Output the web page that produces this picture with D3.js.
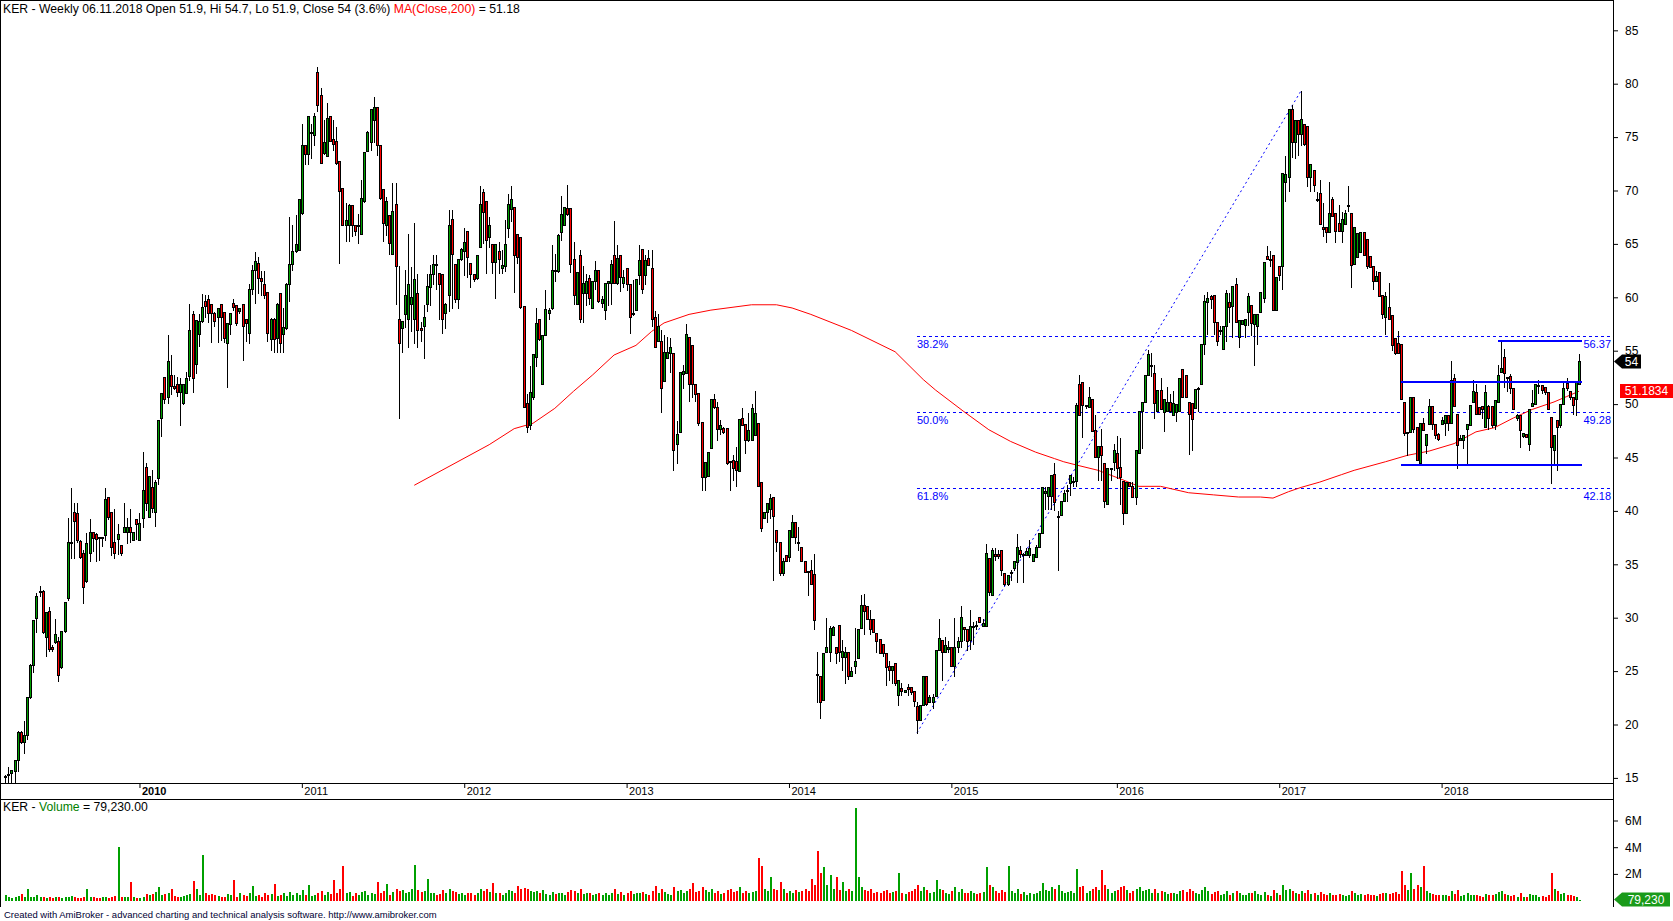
<!DOCTYPE html>
<html><head><meta charset="utf-8">
<script src="https://cdn.jsdelivr.net/npm/d3@7"></script>
<style>
html,body{margin:0;padding:0;background:#fff;overflow:hidden;}
svg{display:block;font-family:"Liberation Sans",Arial,sans-serif;}
</style></head><body>
<svg id="c" width="1673" height="921"></svg>
<script>
// ---------- DATA (weekly bars, index 0 = first visible week) ----------
const opens=[15.2,15.3,15.5,15.6,16.7,19.3,18.4,19.0,22.6,25.6,30.0,32.5,32.5,28.2,30.6,27.3,27.7,27.8,25.4,28.8,31.8,37.1,39.9,39.8,37.2,36.1,33.4,36.1,38.0,37.8,37.6,37.6,37.7,41.3,39.9,37.1,37.4,36.8,38.0,38.0,38.5,37.3,39.2,37.3,39.3,44.1,39.4,42.2,39.9,43.1,48.7,52.5,50.7,52.7,51.7,51.9,51.1,50.1,51.0,52.6,58.4,53.8,56.6,57.8,59.7,59.8,59.4,58.5,58.2,59.4,58.6,55.7,57.5,59.5,59.3,58.7,59.4,58.0,56.7,60.8,62.6,63.2,61.8,61.2,60.5,56.1,58.0,56.2,60.4,56.6,57.1,61.2,63.1,64.3,64.4,67.9,74.3,73.4,75.4,75.2,81.1,78.9,73.5,73.2,77.0,74.8,74.6,72.8,70.2,66.8,66.8,68.6,66.8,66.8,65.9,69.0,73.7,74.5,76.6,77.8,74.3,70.1,66.8,67.7,64.1,68.7,58.0,57.1,58.4,58.0,59.4,58.0,60.4,57.1,57.3,59.4,61.0,62.2,63.1,62.3,62.2,58.5,60.2,67.3,63.1,59.8,63.6,64.3,66.2,63.2,62.2,61.8,64.7,69.9,69.0,65.6,65.0,63.3,64.3,62.7,62.9,66.5,68.3,68.5,65.9,65.6,59.2,50.1,48.0,50.7,54.4,58.0,51.9,56.5,58.5,59.0,62.6,62.5,66.1,66.8,68.4,68.4,63.6,59.4,64.0,60.4,60.4,61.8,59.0,61.5,62.6,59.5,58.8,61.3,61.3,64.0,61.3,64.0,61.3,62.7,61.2,58.5,58.8,62.1,64.5,62.1,63.7,62.7,58.2,55.9,55.9,52.2,54.3,54.8,54.8,46.3,47.4,52.8,52.9,56.3,55.5,51.9,51.0,48.3,43.2,43.3,45.9,50.5,49.7,47.7,47.8,47.8,44.7,44.8,44.7,43.7,48.7,48.1,46.6,46.6,47.1,48.2,42.7,39.3,39.9,40.2,41.3,38.2,37.1,34.2,35.9,35.7,37.6,39.0,37.1,36.6,35.3,34.4,34.5,34.1,24.7,24.5,22.3,26.8,26.8,28.4,27.3,29.3,26.3,26.3,26.8,24.5,25.5,26.2,29.0,31.2,31.1,29.9,29.9,28.6,28.0,27.5,26.7,25.5,25.1,25.8,22.8,23.4,23.0,23.5,23.5,23.1,21.7,20.4,21.8,24.5,22.1,22.1,22.7,27.0,27.9,26.8,27.1,27.3,25.5,27.3,27.8,29.1,28.9,27.9,29.1,29.3,30.1,29.2,29.2,35.6,32.1,36.0,36.0,36.3,34.2,33.2,34.2,34.7,35.2,36.3,36.0,35.9,35.9,35.3,35.7,36.6,37.9,41.7,41.4,41.4,43.5,39.5,39.6,40.9,41.9,42.6,42.8,42.8,51.9,52.1,49.9,49.7,50.5,47.6,45.0,46.1,44.5,40.6,44.0,44.6,45.4,44.1,42.8,39.8,42.7,42.3,41.3,45.4,49.4,50.2,52.7,53.7,52.9,49.4,51.3,49.3,49.4,50.2,49.0,49.3,49.4,53.3,52.7,50.2,50.1,49.6,51.5,51.9,55.6,59.6,60.1,60.2,57.7,56.9,55.2,57.3,59.6,59.2,61.2,56.3,57.5,57.4,58.6,59.3,57.5,57.3,58.6,59.9,63.9,63.6,64.0,58.8,62.9,62.9,70.8,71.3,77.6,74.5,76.6,75.3,76.2,76.0,71.3,71.9,69.2,69.8,66.6,66.6,66.1,69.2,67.9,67.0,66.2,66.9,68.6,67.9,63.1,63.8,64.2,66.1,65.5,63.9,62.9,61.5,62.4,60.2,58.2,59.1,58.3,56.2,55.7,55.6,50.2,47.4,47.4,50.7,47.9,44.5,48.2,46.2,48.1,49.8,48.1,47.2,48.1,48.2,49.0,48.2,52.4,49.1,46.6,46.6,47.7,48.0,50.2,51.1,49.7,49.8,47.9,49.8,49.8,48.0,50.2,53.0,54.4,52.5,52.6,51.5,48.7,49.0,47.0,47.2,46.3,49.8,50.0,51.8,51.8,51.6,51.1,48.8,45.7,48.5,48.0,50.0,52.0,51.2,50.7,50.5,51.9];
const highs=[15.3,16.0,15.7,16.7,19.4,19.4,20.3,22.6,25.7,29.8,32.3,33.0,32.6,30.5,31.0,27.4,29.9,28.2,28.8,31.5,39.3,42.1,40.7,40.7,37.3,36.3,37.9,39.2,38.0,37.9,37.6,37.6,42.1,41.3,39.9,40.2,38.8,36.8,40.7,39.3,40.2,38.0,39.2,39.8,45.5,44.5,43.3,43.8,42.9,48.5,51.0,52.5,56.5,54.6,52.7,52.5,52.4,51.9,53.0,59.4,58.7,57.9,58.4,60.3,60.2,60.2,59.4,58.6,59.0,59.4,58.6,57.6,58.5,59.8,59.3,59.0,59.4,58.0,61.2,63.0,64.2,63.8,62.5,62.5,60.5,58.1,58.1,59.5,60.4,59.0,61.3,67.5,66.8,67.7,69.2,76.2,74.3,77.0,76.2,77.3,81.6,79.6,76.6,78.2,77.0,76.6,75.9,72.8,70.2,68.8,68.7,68.6,66.8,67.8,71.0,73.6,75.6,77.6,78.8,77.8,74.3,70.1,69.4,67.7,70.7,70.7,62.9,57.8,62.6,65.9,62.8,67.0,62.2,57.7,59.3,62.2,63.0,64.0,64.0,62.3,62.2,59.5,68.2,68.2,63.1,63.6,64.6,66.5,66.2,63.2,62.2,64.0,70.4,70.1,69.0,67.5,65.0,65.0,65.2,64.4,67.2,69.7,70.4,68.5,65.9,65.6,59.2,50.9,53.6,54.7,59.0,58.0,56.5,60.7,59.0,64.9,64.1,65.9,69.5,68.5,70.5,68.4,65.2,62.4,64.4,62.9,62.2,62.1,61.5,63.4,62.6,60.1,61.3,61.5,63.5,67.1,64.9,64.0,62.6,62.7,61.2,61.6,61.7,64.9,64.5,64.0,64.4,64.4,58.7,58.4,56.9,56.5,56.3,56.2,54.8,48.4,53.0,53.7,57.5,56.3,55.5,51.9,51.0,48.3,44.6,45.5,50.5,50.9,50.2,48.5,47.9,47.8,44.7,45.2,46.0,48.6,49.6,48.1,49.2,50.0,51.2,48.2,42.7,39.9,40.7,41.6,41.3,38.2,37.1,35.6,35.9,38.2,39.6,39.0,38.5,36.6,35.3,34.4,35.4,36.0,26.8,24.5,26.7,30.0,29.2,29.2,27.3,29.3,27.9,27.3,26.8,25.4,29.0,28.9,32.1,32.2,31.1,30.7,29.9,28.6,28.0,27.5,26.7,25.9,25.5,25.8,24.2,23.9,23.2,23.8,23.5,23.1,22.1,21.8,24.5,24.5,22.8,22.9,27.0,29.9,27.9,28.2,27.8,27.3,30.0,28.2,31.1,29.1,28.9,30.7,29.6,29.7,30.1,29.9,36.9,35.6,36.5,36.5,36.3,36.3,34.2,34.0,34.5,35.3,37.8,36.7,36.1,36.5,37.3,36.0,36.8,37.9,42.2,42.2,42.2,43.4,44.5,40.0,40.9,42.0,42.4,43.4,43.2,50.1,52.7,52.1,49.9,51.6,50.5,49.0,46.1,47.7,44.5,44.0,44.0,46.3,47.0,46.8,42.8,42.7,42.7,42.7,45.7,49.4,50.2,52.7,55.1,54.8,53.7,51.3,52.4,50.5,51.6,50.9,51.2,50.0,52.4,53.3,52.7,50.2,50.1,51.4,51.6,55.6,60.2,60.5,60.2,60.2,57.7,57.3,57.3,60.7,60.4,61.1,61.8,57.9,57.9,58.0,60.4,59.3,58.4,58.4,60.5,63.3,64.8,64.3,64.0,61.9,62.9,71.6,73.2,77.6,78.0,76.6,76.6,79.3,76.2,76.0,72.5,71.9,69.9,71.0,68.8,66.6,70.8,69.4,67.9,68.6,68.0,68.2,70.4,67.9,66.6,66.0,66.1,66.1,65.5,63.9,62.9,62.5,62.4,60.2,60.5,61.3,58.3,56.2,56.8,55.6,50.2,47.4,50.7,50.7,47.9,48.2,48.7,47.2,50.5,49.8,48.1,47.3,48.8,49.0,49.0,54.0,52.8,49.1,47.1,47.1,48.1,49.9,52.3,51.9,49.7,49.8,51.8,49.9,49.8,50.4,53.7,55.9,55.2,52.5,52.8,51.5,49.1,49.0,47.3,47.2,49.5,51.3,51.9,52.3,51.8,51.6,51.1,48.8,47.1,48.5,50.0,52.1,52.4,51.2,50.7,52.1,54.7];
const lows=[14.6,14.6,14.6,14.6,15.6,18.3,17.3,18.6,22.5,24.9,28.7,32.0,28.6,26.4,26.9,26.9,27.6,24.1,25.3,28.7,31.7,35.6,35.6,37.1,35.6,31.4,33.3,35.3,36.2,35.3,35.4,36.7,37.3,39.2,35.9,35.6,36.0,35.9,38.0,37.0,37.1,37.3,37.4,37.3,38.5,40.1,39.4,39.9,38.6,42.5,47.0,50.1,50.1,50.9,51.4,50.8,48.0,50.0,51.0,52.3,51.1,52.9,55.4,57.7,58.2,57.7,55.8,57.3,55.8,56.0,55.8,51.6,56.6,58.8,57.4,58.5,54.1,55.9,55.7,60.3,59.5,60.4,60.2,59.9,55.9,55.1,54.9,54.9,54.9,54.9,57.0,59.7,62.6,64.2,64.4,67.8,72.5,72.5,73.0,74.3,77.4,72.6,73.4,73.2,74.6,73.8,72.5,63.2,66.8,65.3,65.3,65.7,65.8,65.1,65.9,68.9,73.7,73.8,74.5,73.3,69.2,65.3,65.8,64.1,64.1,59.4,48.7,54.9,57.2,55.3,56.8,55.7,55.3,55.9,54.3,58.7,59.3,61.2,60.8,58.0,56.7,57.1,58.7,59.0,59.6,59.0,63.5,62.1,61.9,61.0,61.5,61.7,64.7,65.1,62.3,64.7,62.3,59.9,62.3,62.3,62.5,65.6,67.1,60.5,63.2,59.0,49.7,47.4,47.7,50.5,53.6,56.0,51.9,56.5,58.0,58.9,61.5,62.4,65.4,66.8,67.7,62.4,59.4,59.4,57.7,57.7,59.3,59.4,59.0,60.8,59.6,59.1,58.0,59.3,59.4,61.3,61.2,60.6,61.0,60.7,56.7,58.3,58.8,61.2,60.4,61.2,63.0,57.3,55.3,55.9,49.3,52.2,54.3,53.0,43.8,44.5,47.4,51.5,52.9,50.3,50.7,50.3,48.0,42.0,42.0,43.3,45.9,49.6,46.6,47.2,47.3,44.4,42.0,42.9,42.3,43.7,48.0,45.4,46.5,46.6,47.1,42.3,38.1,39.3,39.0,39.3,33.5,36.2,34.0,34.0,35.3,35.3,37.6,37.0,36.3,35.3,34.3,32.1,33.2,28.9,22.1,20.6,22.3,26.8,25.9,28.4,25.8,25.9,25.1,23.9,24.3,24.5,24.8,26.2,29.0,28.5,29.9,28.5,28.7,26.8,26.7,26.4,23.7,24.2,23.9,23.7,21.8,22.8,23.0,22.8,22.9,21.7,19.2,20.4,21.8,21.8,22.1,21.5,22.7,27.0,24.2,26.8,26.8,25.5,24.5,26.8,27.3,27.9,27.0,27.1,27.5,28.9,29.6,29.2,29.2,32.1,32.1,35.4,35.6,34.0,33.1,33.1,33.5,34.5,33.3,35.7,33.3,35.9,35.7,35.3,35.7,36.6,37.9,40.2,40.2,40.2,40.1,34.5,39.6,40.9,40.9,41.5,42.3,42.3,49.0,46.9,49.6,49.7,47.5,45.0,42.9,42.9,40.4,40.6,42.9,43.8,43.1,40.6,38.8,39.8,42.3,41.3,40.6,45.4,45.9,50.2,52.7,52.6,48.7,49.4,49.5,47.5,49.4,49.3,49.0,48.4,49.4,50.7,50.7,45.3,45.7,49.6,49.4,51.9,54.7,56.6,59.0,56.6,55.5,56.6,55.2,55.9,57.7,56.3,57.7,55.3,57.5,56.3,57.4,56.5,53.7,55.6,58.6,59.6,63.6,62.9,58.8,58.8,61.6,60.8,69.0,70.0,73.1,73.0,73.3,74.3,74.3,70.4,70.0,70.0,69.0,66.9,65.7,65.2,66.1,67.6,65.2,66.2,65.2,66.9,68.1,61.0,63.1,63.8,64.2,64.0,62.7,62.8,60.8,61.5,60.1,58.1,56.6,58.0,55.1,54.7,54.8,50.5,47.1,45.2,47.4,47.4,44.8,44.3,47.6,45.4,48.1,47.7,46.8,46.6,48.1,47.1,47.6,48.2,49.8,44.0,46.6,45.9,44.3,48.0,50.2,49.1,49.1,48.7,47.9,47.7,47.9,47.7,50.2,53.0,51.6,51.2,51.0,49.5,48.5,46.0,46.9,46.9,45.7,49.8,50.0,51.0,51.0,50.9,49.5,42.6,44.3,43.8,47.9,50.0,51.3,50.5,49.1,49.0,51.9];
const closes=[15.2,15.4,15.7,16.7,19.3,18.4,19.0,22.6,25.6,29.8,32.0,32.5,28.7,30.5,27.1,27.1,28.5,24.6,28.8,31.5,37.1,37.1,39.1,37.3,35.7,32.9,37.0,38.0,37.5,37.4,37.5,37.6,41.1,39.4,36.6,36.1,37.8,36.1,38.5,38.5,38.0,38.0,38.8,38.9,42.0,40.7,43.3,40.3,42.7,48.5,51.0,50.5,54.0,51.7,51.5,51.1,51.9,51.9,52.4,56.9,52.4,57.9,57.8,59.1,59.2,58.5,58.5,57.8,59.0,58.2,56.2,57.6,58.5,59.1,57.6,59.0,57.3,57.6,60.8,62.6,63.4,61.8,61.5,60.2,56.7,58.0,56.1,59.4,55.7,57.2,61.2,63.1,64.3,65.0,69.2,74.3,73.4,77.0,75.5,77.0,78.0,72.6,74.5,76.8,74.6,74.4,72.6,70.0,66.8,67.2,68.6,66.8,66.2,66.8,69.3,73.6,75.5,77.6,77.8,74.3,69.3,67.0,69.0,65.1,68.1,62.9,55.7,57.8,60.2,61.2,60.0,61.7,56.9,56.9,58.2,61.1,62.2,63.1,63.0,61.2,58.0,59.4,66.8,64.1,59.8,63.6,64.5,65.2,63.8,62.2,61.7,64.0,68.7,68.0,65.4,66.8,63.3,65.0,63.6,63.0,65.0,68.7,69.2,64.0,63.8,59.1,49.7,47.9,51.1,54.7,57.6,56.1,56.5,58.9,58.8,62.6,62.5,65.8,67.8,68.5,67.8,63.1,60.2,62.4,58.0,61.3,61.5,59.9,61.5,62.6,59.7,59.8,61.3,61.5,63.1,61.3,63.7,61.9,61.9,61.2,58.2,58.5,61.7,63.5,60.8,63.5,63.0,58.0,55.3,57.3,51.5,54.9,54.9,55.3,45.7,47.2,53.0,53.1,56.6,51.9,51.9,50.9,48.2,43.2,44.6,45.5,50.5,49.7,47.7,48.0,47.4,44.5,44.6,44.0,43.8,48.6,48.0,46.6,47.6,49.6,49.2,42.3,38.4,39.9,40.7,41.2,39.5,37.1,34.2,35.3,35.3,38.2,39.0,37.6,37.1,35.3,34.3,34.3,33.2,29.8,24.6,22.1,26.7,27.3,29.0,29.1,26.7,26.8,26.9,26.8,24.5,25.0,25.9,28.9,31.2,30.6,29.9,28.9,28.7,27.8,26.7,26.7,25.4,25.1,25.5,23.9,24.2,23.1,23.2,23.3,23.0,22.2,20.4,21.8,24.5,21.9,22.6,22.6,27.0,28.1,26.8,27.4,27.3,25.5,27.3,27.8,30.1,28.9,27.8,29.2,29.2,29.2,29.6,29.5,36.1,32.4,36.3,35.8,35.8,34.5,33.2,34.0,34.3,35.3,36.6,36.0,36.0,36.2,36.5,36.0,36.6,37.9,42.2,41.9,42.2,43.4,40.8,39.5,40.9,41.7,42.0,43.4,42.8,49.9,49.0,49.9,49.9,50.7,47.5,45.0,46.1,45.2,40.9,44.0,44.0,45.7,44.0,43.2,39.8,42.7,42.3,41.3,45.7,49.4,50.2,52.7,54.7,53.7,50.1,51.3,49.5,50.5,50.2,49.4,50.1,50.0,52.4,50.7,50.7,49.1,48.6,51.4,51.5,55.6,59.7,59.9,59.8,57.7,55.9,56.9,57.3,60.4,59.1,61.1,57.7,57.9,57.9,58.0,60.1,57.6,58.4,58.4,60.5,63.3,63.6,63.6,58.8,61.9,62.1,71.6,71.5,77.6,74.5,76.6,75.3,76.7,74.4,71.3,72.5,70.5,69.2,66.9,66.4,66.1,67.9,67.6,66.2,66.2,67.3,67.9,68.6,63.0,66.6,66.0,66.1,64.0,62.9,62.8,61.5,62.0,60.1,58.4,60.1,58.0,55.5,54.8,54.8,50.5,47.3,47.4,50.7,47.7,44.8,48.2,47.6,47.2,49.8,48.1,47.1,46.7,48.5,49.0,48.2,52.3,49.8,46.2,46.8,47.1,48.1,49.9,51.2,49.1,49.1,49.5,51.1,48.7,48.0,50.4,52.7,53.4,52.9,52.5,51.5,49.5,49.0,47.6,47.3,46.9,49.5,50.1,51.9,51.8,51.3,51.1,49.5,46.0,47.1,47.9,50.0,51.5,51.5,50.7,49.9,52.1,54.0];
// weekly volume, thousands of shares
const volumes=[400,300,200,300,350,500,300,900,300,250,400,300,250,200,300,200,250,300,200,250,300,350,250,200,200,250,850,300,250,200,200,250,250,200,300,350,4000,250,300,250,1400,250,200,200,300,500,450,500,650,1000,450,500,550,900,350,300,250,350,400,500,1500,900,400,3400,600,400,500,450,350,300,300,500,450,1550,300,550,450,350,600,1100,350,450,300,550,400,500,1250,350,450,550,350,650,450,550,400,800,450,1200,350,450,550,700,450,650,500,1550,600,850,2600,550,650,350,550,450,650,750,450,600,500,1400,600,750,1250,450,650,900,700,800,600,650,900,2700,800,650,700,1600,550,600,450,500,800,600,900,700,650,500,600,450,550,600,400,600,850,700,900,650,1300,600,550,450,600,800,700,600,1100,900,950,900,700,650,700,600,800,500,450,650,500,550,600,450,650,800,700,600,850,500,550,600,450,500,550,400,600,450,550,900,500,650,400,550,700,500,550,600,650,500,450,700,1100,600,900,650,500,450,1000,750,800,600,700,850,1300,650,700,1000,800,650,900,600,700,500,550,800,900,650,750,1000,600,700,550,650,700,3200,2600,900,700,1750,900,800,1400,900,600,700,550,800,650,700,900,750,1600,1200,3700,2100,2500,1200,1900,900,1750,800,1400,700,900,700,6900,1750,1000,800,700,900,600,650,550,700,800,600,650,750,2100,600,500,650,700,900,1200,700,1000,800,600,650,1550,900,800,600,500,750,1000,650,900,600,550,700,600,500,550,650,2550,1200,1000,700,600,800,650,2600,700,600,900,500,650,450,550,500,600,700,1300,800,700,1000,900,1200,700,600,650,700,600,2400,1000,1100,600,700,900,1000,800,2300,1200,900,600,700,800,1000,1100,800,600,700,900,1000,700,800,900,600,900,600,700,650,500,600,550,500,700,800,650,900,700,600,500,800,1000,700,500,650,700,450,500,700,450,600,750,550,400,450,600,550,700,500,450,650,400,350,800,600,450,1200,800,900,700,600,500,700,550,800,500,550,400,650,500,450,600,400,450,500,400,350,450,700,550,450,500,450,500,400,450,350,500,600,550,500,600,650,500,2200,1200,800,2100,900,1200,1000,2600,700,600,500,450,400,450,400,350,700,500,800,350,400,600,450,400,450,350,300,500,400,450,500,650,700,500,400,350,450,300,550,300,250,500,400,450,300,350,300,400,2100,900,700,500,600,450,400,350,300,79.23];

const yearTickIdx=[43,95,147,199,251,303,356,408,460];
const yearLabels=["2010","2011","2012","2013","2014","2015","2016","2017","2018"];
const priceTicks=[15,20,25,30,35,40,45,50,55,60,65,70,75,80,85];
const volTicks=[2000,4000,6000];
const volTickLabels=["2M","4M","6M"];

// MA(Close,200): [bar index, value]
const maIdx=[131,155,163,169,176,182,188,195,202,207,211,219,226,239,247,252,258,271,285,294,298,307,315,322,330,336,339,343,350,358,363,370,379,387,395,402,406,411,415,421,428,432,442,449,456,464,471,477,483,489,496,500,504];
const maVal=[42.4,46.2,47.7,48.2,49.6,51.2,52.7,54.6,55.5,56.8,57.6,58.4,58.8,59.3,59.3,59.0,58.4,56.9,54.9,52.3,51.3,49.3,47.6,46.5,45.5,44.9,44.6,44.3,43.8,42.9,42.3,42.3,41.7,41.5,41.3,41.3,41.2,41.8,42.2,42.7,43.4,43.8,44.6,45.2,45.6,46.3,47.4,47.8,48.7,49.5,50.2,50.7,51.2];

// Fibonacci retracement
const fibPct=["38.2%","50.0%","61.8%"];
const fibVal=[56.37,49.28,42.18];
const fibStartIdx=292;
const trendIdx=[292,415];
const trendVal=[19.22,79.34];
// horizontal range lines
const lvlVal=[55.93,52.04,44.33];
const lvlStart=[478,447,447];
const lvlEnd=[505,505,505];

// ---------- DRAW ----------
(function(){
const W=1673,H=921,AX=1613,PB=783,DB=799,VB=907;
const FONT='"Liberation Sans",Arial,sans-serif';
const svg=d3.select('#c');
svg.append('rect').attr('width',W).attr('height',H).attr('fill','#fff');
const N=closes.length;
const x=d3.scaleLinear().domain([0,504]).range([5.2,5.2+3.1226*504]);
const y=d3.scaleLinear().domain([15,85]).range([777.9,30.3]);
const yv=d3.scaleLinear().domain([0,6000]).range([900.6,820.5]);
const GREEN='#00a000',RED='#ff0000',BLUE='#0000ff';

const defs=svg.append('defs');
defs.append('clipPath').attr('id','pclip').append('rect').attr('x',1).attr('y',1).attr('width',AX-1).attr('height',PB-1);

const data=d3.range(N).map(i=>({i,o:opens[i],h:highs[i],l:lows[i],c:closes[i],v:volumes[i]}));
const up=d=>d.c>=d.o;

// Fib lines (behind candles)
const fg=svg.append('g').attr('clip-path','url(#pclip)');
fg.selectAll('line.fib').data(fibVal).join('line')
  .attr('x1',x(fibStartIdx)).attr('x2',AX).attr('y1',d=>Math.round(y(d))+0.5).attr('y2',d=>Math.round(y(d))+0.5)
  .attr('stroke',BLUE).attr('stroke-width',1).attr('stroke-dasharray','3,3');
fg.selectAll('text.fp').data(fibPct).join('text')
  .attr('x',x(fibStartIdx)).attr('y',(d,k)=>y(fibVal[k])+12).attr('fill',BLUE).attr('font-size',11).text(d=>d);
fg.selectAll('text.fv').data(fibVal).join('text')
  .attr('x',AX-2).attr('y',d=>y(d)+12).attr('text-anchor','end').attr('fill',BLUE).attr('font-size',11).text(d=>d.toFixed(2));
fg.append('line').attr('x1',x(trendIdx[0])).attr('y1',y(trendVal[0])).attr('x2',x(trendIdx[1])).attr('y2',y(trendVal[1]))
  .attr('stroke',BLUE).attr('stroke-width',1).attr('stroke-dasharray','2,3');

// MA line
const maPts=maIdx.map((d,k)=>[d,maVal[k]]);
fg.append('path').attr('d',d3.line().x(d=>x(d[0])).y(d=>y(d[1]))(maPts))
  .attr('fill','none').attr('stroke',RED).attr('stroke-width',1);

// candles
const cg=svg.append('g').attr('clip-path','url(#pclip)').attr('shape-rendering','crispEdges');
const cx=d=>Math.round(x(d.i));
cg.selectAll('line.w').data(data).join('line')
  .attr('x1',d=>cx(d)+0.5).attr('x2',d=>cx(d)+0.5)
  .attr('y1',d=>Math.round(y(Math.max(d.h,d.o,d.c)))).attr('y2',d=>Math.round(y(Math.min(d.l,d.o,d.c)))+1)
  .attr('stroke','#000').attr('stroke-width',1);
const bTop=d=>Math.round(y(Math.max(d.o,d.c)));
const bH=d=>Math.max(2,Math.round(y(Math.min(d.o,d.c)))-bTop(d)+1);
cg.selectAll('rect.b').data(data).join('rect')
  .attr('x',d=>cx(d)-1).attr('y',bTop).attr('width',3).attr('height',bH).attr('fill','#000');
cg.selectAll('rect.f').data(data.filter(d=>bH(d)>2)).join('rect')
  .attr('x',d=>cx(d)).attr('y',d=>bTop(d)+1).attr('width',1).attr('height',d=>bH(d)-2)
  .attr('fill',d=>up(d)?GREEN:RED);

// blue range lines
cg.selectAll('line.lvl').data(lvlVal).join('line')
  .attr('x1',(d,k)=>x(lvlStart[k])).attr('x2',(d,k)=>x(lvlEnd[k]))
  .attr('y1',d=>Math.round(y(d))).attr('y2',d=>Math.round(y(d)))
  .attr('stroke',BLUE).attr('stroke-width',2);

// volume bars
const vg=svg.append('g').attr('shape-rendering','crispEdges');
vg.selectAll('rect').data(data).join('rect')
  .attr('x',d=>cx(d)).attr('width',2)
  .attr('y',d=>Math.round(yv(d.v))).attr('height',d=>Math.max(0,Math.round(yv(0))-Math.round(yv(d.v))))
  .attr('fill',d=>up(d)?GREEN:RED);

// frame
const fr=svg.append('g').attr('shape-rendering','crispEdges').attr('stroke','#000').attr('stroke-width',1);
fr.append('line').attr('x1',0.5).attr('x2',0.5).attr('y1',0).attr('y2',VB);
fr.append('line').attr('x1',0).attr('x2',AX).attr('y1',0.5).attr('y2',0.5);
fr.append('line').attr('x1',AX+0.5).attr('x2',AX+0.5).attr('y1',0).attr('y2',VB);
fr.append('line').attr('x1',0).attr('x2',AX).attr('y1',PB+0.5).attr('y2',PB+0.5);
fr.append('line').attr('x1',0).attr('x2',AX).attr('y1',DB+0.5).attr('y2',DB+0.5);

// price axis
const pa=svg.append('g').attr('transform',`translate(${AX},0)`)
  .call(d3.axisRight(y).tickValues(priceTicks).tickSize(5).tickPadding(7).tickFormat(d3.format('d')));
pa.select('.domain').remove();
pa.selectAll('text').attr('font-size',12).attr('font-family',FONT).attr('fill','#000');
pa.selectAll('line').attr('stroke','#000');

// volume axis
const va=svg.append('g').attr('transform',`translate(${AX},0)`)
  .call(d3.axisRight(yv).tickValues(volTicks).tickSize(5).tickPadding(7).tickFormat((d,k)=>volTickLabels[k]));
va.select('.domain').remove();
va.selectAll('text').attr('font-size',12).attr('font-family',FONT).attr('fill','#000');

// date axis
const da=svg.append('g').attr('transform',`translate(0,${PB})`)
  .call(d3.axisBottom(x).tickValues(yearTickIdx).tickSize(5).tickFormat((d,k)=>yearLabels[k]));
da.select('.domain').remove();
da.selectAll('text').attr('text-anchor','start').attr('x',2).attr('y',4).attr('font-size',11)
  .attr('font-family',FONT).attr('fill','#000')
  .attr('font-weight',(d,k)=>k===0?'bold':'normal');

// header texts: fit the font size to the reference width (no glyph stretching)
function fit(t,target){const L=t.node().getComputedTextLength(); if(L>0) t.attr('font-size',12*target/L);}
const hdr=svg.append('text').attr('x',3).attr('y',13).attr('font-size',12);
hdr.append('tspan').text('KER - Weekly 06.11.2018 Open 51.9, Hi 54.7, Lo 51.9, Close 54 (3.6%) ');
hdr.append('tspan').attr('fill',RED).text('MA(Close,200)');
hdr.append('tspan').text(' = 51.18');
fit(hdr,517);

const vh=svg.append('text').attr('x',3).attr('y',811).attr('font-size',12);
vh.append('tspan').text('KER - ');
vh.append('tspan').attr('fill','#008000').text('Volume');
vh.append('tspan').text(' = 79,230.00');
fit(vh,145);

const ft=svg.append('text').attr('x',4).attr('y',918).attr('font-size',12).attr('fill','#000033')
  .text('Created with AmiBroker - advanced charting and technical analysis software. http://www.amibroker.com');
fit(ft,433);

// value tags
function tag(yc,x0,x1,fill,label,arrow){
  const g=svg.append('g');
  const h=7;
  const pts=arrow?[[x0,yc],[x0+8,yc-h],[x1,yc-h],[x1,yc+h],[x0+8,yc+h]]:[[x0,yc-h],[x1,yc-h],[x1,yc+h],[x0,yc+h]];
  g.append('polygon').attr('points',pts.map(p=>p.join(',')).join(' ')).attr('fill',fill);
  const lx=arrow?x0+8:x0;
  g.append('text').attr('x',lx+(x1-lx)/2).attr('y',yc+4.5).attr('text-anchor','middle')
    .attr('fill','#fff').attr('font-size',12).text(label);
}
tag(y(closes[N-1]),AX+1,1641,'#000','54',true);
tag(y(maVal[maVal.length-1])-0.3,1620,1673,RED,'51.1834',false);
tag(yv(volumes[N-1]),AX+1,1670,'#1a9a1a','79,230',true);
})();
</script>
</body></html>
